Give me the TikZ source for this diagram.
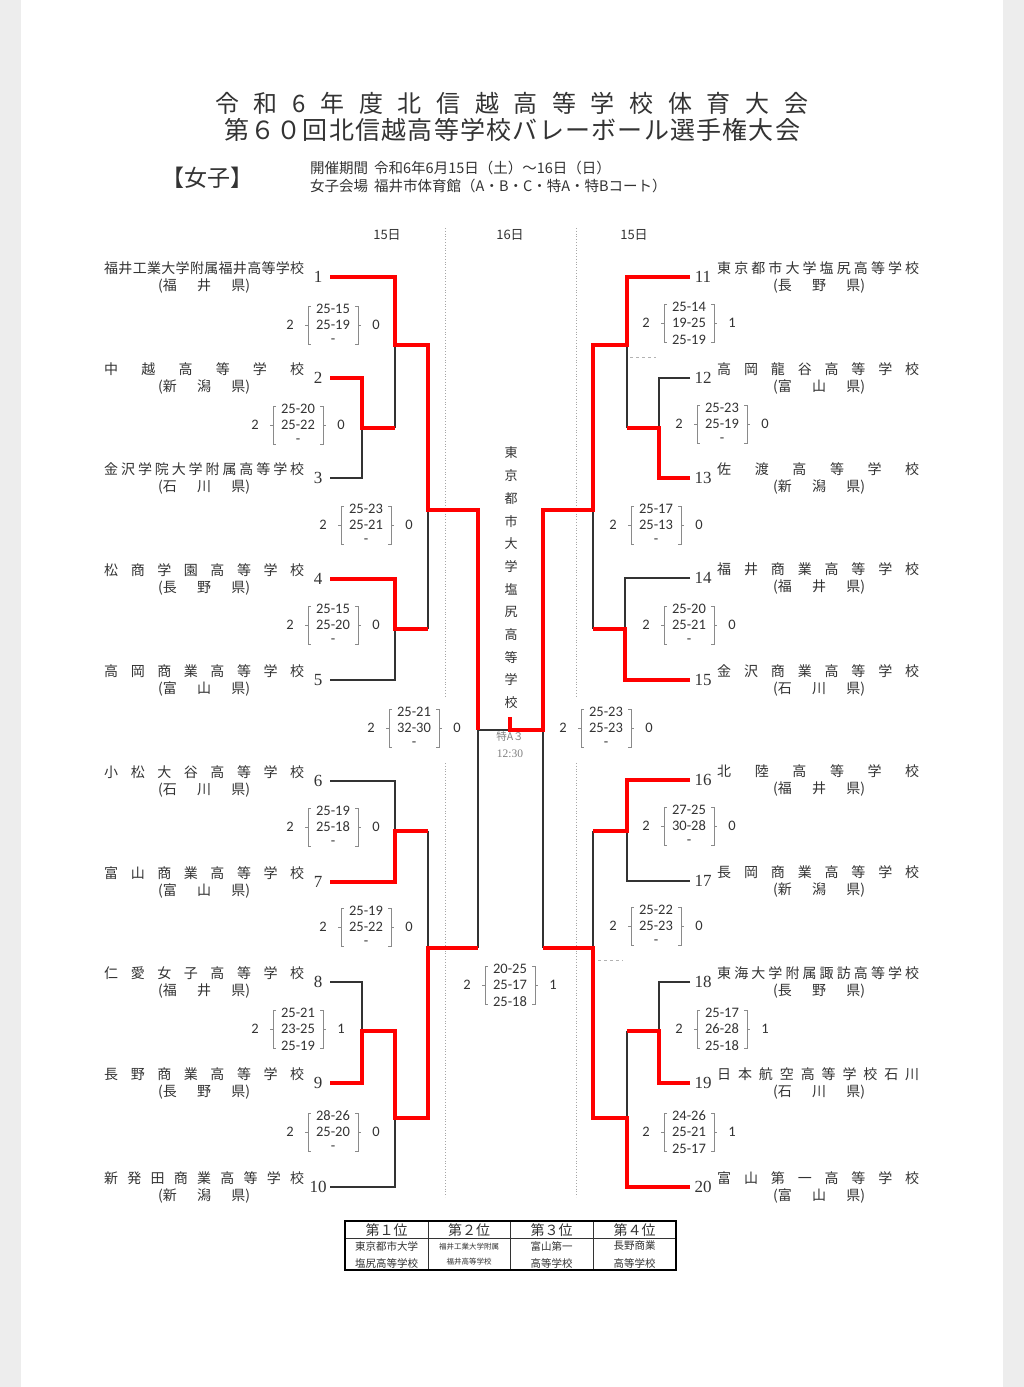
\documentclass[tikz,border=0pt]{standalone}
\usepackage{fontspec}
\setmainfont{Liberation Serif}
\newfontfamily\jp{Noto Sans CJK JP}
\newfontfamily\scorefont{Carlito}
\newcommand\fs[1]{\fontsize{#1}{#1}\selectfont}
\def\relaxmark{\relax}
\def\spreadloop#1{#1\spreadnext}
\def\spreadnext#1{\def\tmparg{#1}\ifx\tmparg\relaxmark\else\hfill#1\expandafter\spreadnext\fi}
\newcommand\spreadbox[2]{\makebox[#1][s]{\spreadloop#2\relax}}
\definecolor{txt}{HTML}{333333}
\definecolor{brkgray}{HTML}{8A8A8A}
\definecolor{margin}{HTML}{EDEDED}
% left team: #1 num, #2 line y, #3 name, #4 pref
\newcommand\leftteam[4]{%
  \node[numstyle] (ln#1) at (318,#2) {#1};
  \node[namestyle,anchor=west] (lname#1) at (104,#2-9) {\spreadbox{200pt}{#3}};
  \node[namestyle,anchor=west] (lpref#1) at (158,#2+9) {\spreadbox{92pt}{#4}};
}
\newcommand\rightteam[4]{%
  \node[numstyle] (rn#1) at (703,#2) {#1};
  \node[namestyle,anchor=west] (rname#1) at (717,#2-9) {\spreadbox{202pt}{#3}};
  \node[namestyle,anchor=west] (rpref#1) at (773,#2+9) {\spreadbox{92pt}{#4}};
}
% score box: #1 id, #2 x, #3 y, #4 left, #5 s1, #6 s2, #7 s3, #8 right
\newcommand\scorebox[8]{%
  \node[scorestyle] (#1l) at (#2-43,#3) {#4};
  \node[scorestyle] (#1r) at (#2+43,#3) {#8};
  \node[scorestyle] (#1a) at (#2,#3-16.5) {#5};
  \node[scorestyle] (#1b) at (#2,#3) {#6};
  \node[scorestyle] (#1c) at (#2,#3+16.5) {#7};
  \draw[brk] (#2-22,#3-19) -- (#2-25,#3-19) -- (#2-25,#3+19) -- (#2-22,#3+19)
             (#2-25,#3) -- (#2-28,#3);
  \draw[brk] (#2+22,#3-19) -- (#2+25,#3-19) -- (#2+25,#3+19) -- (#2+22,#3+19)
             (#2+25,#3) -- (#2+28,#3);
}
\begin{document}
\begin{tikzpicture}[x=1pt,y=-1pt,
  numstyle/.style={inner sep=0pt,font={\fs{17}},text=txt},
  namestyle/.style={inner sep=0pt,font={\jp\fs{14}},text=txt},
  scorestyle/.style={inner sep=0pt,font={\scorefont\fs{14.5}},text=txt},
  brk/.style={draw=brkgray,line width=0.8pt},
  thinline/.style={draw=txt,line width=1.3pt},
  redline/.style={draw=red,line width=4pt,line join=miter},
  dotline/.style={draw=gray!70,line width=0.8pt,dotted},
  hdr/.style={inner sep=0pt,font={\jp\fs{13}},text=txt},
  cell/.style={inner sep=0pt,font={\jp\fs{10.5}},text=txt}]
\useasboundingbox (0,0) rectangle (1024,1387);
\fill[margin] (0,0) rectangle (1024,1387);
\fill[white] (21,0) rectangle (1003,1387);

% titles
\node[inner sep=0pt,anchor=west,font={\jp\fs{24}},text=txt] (title1) at (215,103) {\spreadbox{593pt}{令和6年度北信越高等学校体育大会}};
\node[inner sep=0pt,anchor=west,font={\jp\fs{25}},text=txt] (title2) at (224,130) {\spreadbox{576pt}{第６０回北信越高等学校バレーボール選手権大会}};
\node[inner sep=0pt,anchor=west,font={\jp\fs{23}},text=txt] (girls) at (161,178) {【女子】};
\node[inner sep=0pt,anchor=west,font={\jp\fs{14.5}},text=txt] (period) at (310,168) {開催期間\hspace{6pt}令和6年6月15日（土）～16日（日）};
\node[inner sep=0pt,anchor=west,font={\jp\fs{14.5}},text=txt] (venue) at (310,186) {女子会場\hspace{6pt}福井市体育館（A・B・C・特A・特Bコート）};

% day headers
\node[hdr] (d1) at (387,235) {15日};
\node[hdr] (d2) at (510,235) {16日};
\node[hdr] (d3) at (634,235) {15日};

% dotted day separators
\draw[dotline] (445,228) -- (445,697) (445,763) -- (445,1197);
\draw[dotline] (576,228) -- (576,697) (576,763) -- (576,1197);
\draw[gray!60,line width=0.6pt,dashed] (630,357) -- (656,357);
\draw[gray!60,line width=0.6pt,dashed] (598,960) -- (623,960);

% teams
\leftteam{1}{277}{福井工業大学附属福井高等学校}{{(福}井{県)}}
\leftteam{2}{378}{中越高等学校}{{(新}潟{県)}}
\leftteam{3}{478}{金沢学院大学附属高等学校}{{(石}川{県)}}
\leftteam{4}{579}{松商学園高等学校}{{(長}野{県)}}
\leftteam{5}{680}{高岡商業高等学校}{{(富}山{県)}}
\leftteam{6}{781}{小松大谷高等学校}{{(石}川{県)}}
\leftteam{7}{882}{富山商業高等学校}{{(富}山{県)}}
\leftteam{8}{982}{仁愛女子高等学校}{{(福}井{県)}}
\leftteam{9}{1083}{長野商業高等学校}{{(長}野{県)}}
\leftteam{10}{1187}{新発田商業高等学校}{{(新}潟{県)}}
\rightteam{11}{277}{東京都市大学塩尻高等学校}{{(長}野{県)}}
\rightteam{12}{378}{高岡龍谷高等学校}{{(富}山{県)}}
\rightteam{13}{478}{佐渡高等学校}{{(新}潟{県)}}
\rightteam{14}{578}{福井商業高等学校}{{(福}井{県)}}
\rightteam{15}{680}{金沢商業高等学校}{{(石}川{県)}}
\rightteam{16}{780}{北陸高等学校}{{(福}井{県)}}
\rightteam{17}{881}{長岡商業高等学校}{{(新}潟{県)}}
\rightteam{18}{982}{東海大学附属諏訪高等学校}{{(長}野{県)}}
\rightteam{19}{1083}{日本航空高等学校石川}{{(石}川{県)}}
\rightteam{20}{1187}{富山第一高等学校}{{(富}山{県)}}

% bracket structure (thin)
\draw[thinline]
  (330,277) -- (395,277) -- (395,428)  (395,345) -- (428,345)
  (330,378) -- (362,378) -- (362,478) -- (330,478)  (362,428) -- (395,428)
  (330,579) -- (395,579) -- (395,680) -- (330,680)  (395,629) -- (428,629)
  (428,345) -- (428,629)  (428,510) -- (478,510)
  (330,781) -- (395,781) -- (395,882) -- (330,882)  (395,831) -- (428,831)
  (330,982) -- (362,982) -- (362,1083) -- (330,1083)  (362,1031) -- (395,1031)
  (395,1031) -- (395,1187) -- (330,1187)  (395,1118) -- (428,1118)
  (428,831) -- (428,1118)  (428,948) -- (478,948)
  (478,510) -- (478,948)  (478,730) -- (543,730)
  (690,277) -- (627,277) -- (627,428)  (627,345) -- (593,345)
  (690,378) -- (659,378) -- (659,478) -- (690,478)  (659,428) -- (627,428)
  (690,578) -- (625,578) -- (625,680) -- (690,680)  (625,629) -- (593,629)
  (593,345) -- (593,629)  (593,510) -- (543,510)
  (690,780) -- (627,780) -- (627,881) -- (690,881)  (627,831) -- (593,831)
  (690,982) -- (659,982) -- (659,1083) -- (690,1083)  (659,1031) -- (627,1031)
  (627,1031) -- (627,1187) -- (690,1187)  (627,1118) -- (593,1118)
  (593,831) -- (593,1118)  (593,948) -- (543,948)
  (543,510) -- (543,948);

% winners (red)
\draw[redline] (330,277) -- (395,277) -- (395,345) -- (428,345) -- (428,510) -- (478,510) -- (478,730);
\draw[redline] (330,378) -- (362,378) -- (362,428) -- (395,428);
\draw[redline] (330,579) -- (395,579) -- (395,629) -- (428,629);
\draw[redline] (330,882) -- (395,882) -- (395,831) -- (428,831);
\draw[redline] (330,1083) -- (362,1083) -- (362,1031) -- (395,1031) -- (395,1118) -- (428,1118) -- (428,948) -- (478,948);
\draw[redline] (690,277) -- (627,277) -- (627,345) -- (593,345) -- (593,510) -- (543,510) -- (543,730) -- (510,730) -- (510,717);
\draw[redline] (690,478) -- (659,478) -- (659,428) -- (627,428);
\draw[redline] (690,680) -- (625,680) -- (625,629) -- (593,629);
\draw[redline] (690,780) -- (627,780) -- (627,831) -- (593,831);
\draw[redline] (690,1083) -- (659,1083) -- (659,1031) -- (627,1031);
\draw[redline] (690,1187) -- (627,1187) -- (627,1118) -- (593,1118) -- (593,948) -- (543,948);

% scores
\scorebox{sa}{333}{325}{2}{25-15}{25-19}{-}{0}
\scorebox{sb}{298}{425}{2}{25-20}{25-22}{-}{0}
\scorebox{sc}{366}{525}{2}{25-23}{25-21}{-}{0}
\scorebox{sd}{333}{625}{2}{25-15}{25-20}{-}{0}
\scorebox{se}{414}{728}{2}{25-21}{32-30}{-}{0}
\scorebox{sf}{333}{827}{2}{25-19}{25-18}{-}{0}
\scorebox{sg}{366}{927}{2}{25-19}{25-22}{-}{0}
\scorebox{sh}{298}{1029}{2}{25-21}{23-25}{25-19}{1}
\scorebox{si}{333}{1132}{2}{28-26}{25-20}{-}{0}
\scorebox{sfin}{510}{985}{2}{20-25}{25-17}{25-18}{1}
\scorebox{sj}{689}{323}{2}{25-14}{19-25}{25-19}{1}
\scorebox{sk}{722}{424}{2}{25-23}{25-19}{-}{0}
\scorebox{sl}{656}{525}{2}{25-17}{25-13}{-}{0}
\scorebox{sm}{689}{625}{2}{25-20}{25-21}{-}{0}
\scorebox{sn}{606}{728}{2}{25-23}{25-23}{-}{0}
\scorebox{so}{689}{826}{2}{27-25}{30-28}{-}{0}
\scorebox{sp}{656}{926}{2}{25-22}{25-23}{-}{0}
\scorebox{sq}{722}{1029}{2}{25-17}{26-28}{25-18}{1}
\scorebox{sr}{689}{1132}{2}{24-26}{25-21}{25-17}{1}

% champion (vertical)
\foreach \ch [count=\i from 0] in {東,京,都,市,大,学,塩,尻,高,等,学,校}
  \node[inner sep=0pt,font={\jp\fs{13}},text=txt] (champ\i) at (511,453+22.7*\i) {\ch};
\node[inner sep=0pt,font={\jp\fs{10.5}},text=gray] (court) at (510,736) {特A３};
\node[inner sep=0pt,font={\fs{11.5}},text=gray] (time) at (510,754) {12:30};

% result table
\draw[line width=0.9pt,draw=txt] (345,1238) -- (676,1238)
  (428,1221) -- (428,1270) (510,1221) -- (510,1270) (593,1221) -- (593,1270);
\draw[line width=2.6pt,draw=black] (345,1221) rectangle (676,1270);
\node[inner sep=0pt,font={\jp\fs{14}},text=txt] (h1) at (386.5,1230) {第１位};
\node[inner sep=0pt,font={\jp\fs{14}},text=txt] (h2) at (469,1230) {第２位};
\node[inner sep=0pt,font={\jp\fs{14}},text=txt] (h3) at (551.5,1230) {第３位};
\node[inner sep=0pt,font={\jp\fs{14}},text=txt] (h4) at (634.5,1230) {第４位};
\node[cell] (c1a) at (386.5,1246) {東京都市大学};
\node[cell] (c1b) at (386.5,1263) {塩尻高等学校};
\node[cell,font={\jp\fs{7.5}}] (c2a) at (469,1247) {福井工業大学附属};
\node[cell,font={\jp\fs{7.5}}] (c2b) at (469,1262) {福井高等学校};
\node[cell] (c3a) at (551.5,1246) {富山第一};
\node[cell] (c3b) at (551.5,1263) {高等学校};
\node[cell] (c4a) at (634.5,1246) {長野商業};
\node[cell] (c4b) at (634.5,1263) {高等学校};
\end{tikzpicture}
\end{document}
